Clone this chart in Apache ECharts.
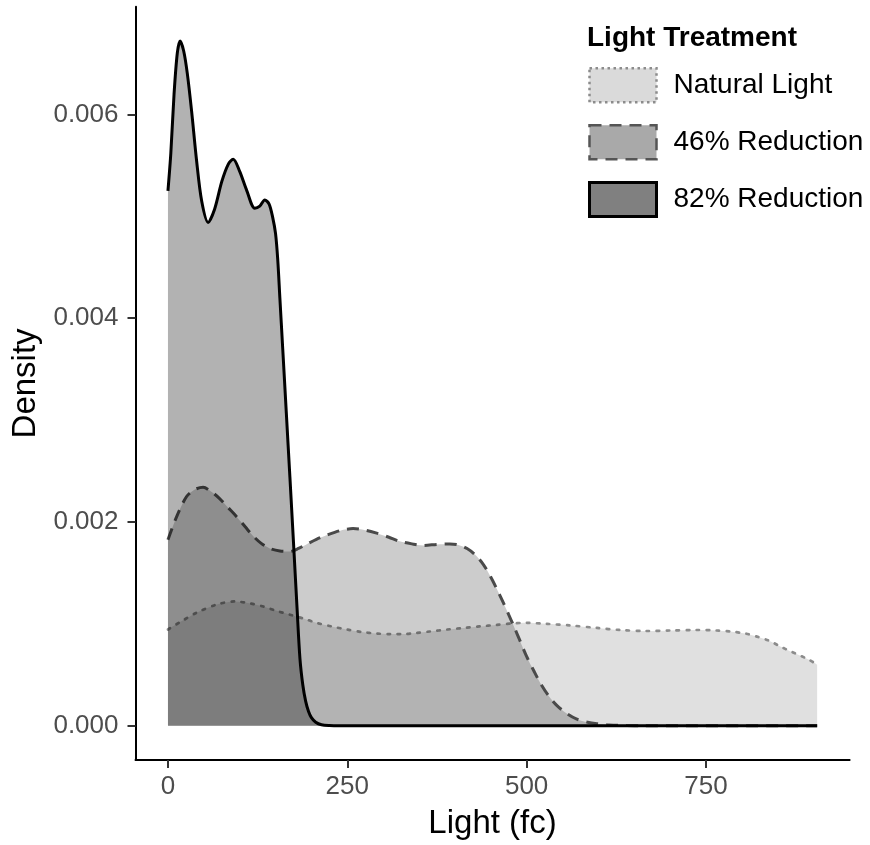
<!DOCTYPE html>
<html>
<head>
<meta charset="utf-8">
<title>Light Treatment density</title>
<script src="https://cdn.jsdelivr.net/npm/echarts@6/dist/echarts.min.js"></script>
<style>
  html, body { margin: 0; padding: 0; background: #ffffff; }
  #chart { width: 870px; height: 845px; }
</style>
</head>
<body>
<div id="chart"></div>
<script>
// Kernel density estimates of light level (fc) for each light treatment.
// Densities are given in units of 0.001.
const naturalX = [0, 20, 40, 68, 93, 115, 133, 150, 170, 190, 207, 228, 249, 270, 291, 310, 328, 345, 365, 390, 412, 435, 458, 481, 500, 528, 560, 598, 630, 667, 700, 737, 765, 784, 805, 821, 838, 853, 868, 881, 893, 905];
const naturalD = [0.945, 1.03, 1.11, 1.19, 1.22, 1.20, 1.17, 1.13, 1.09, 1.05, 1.01, 0.975, 0.945, 0.92, 0.905, 0.90, 0.90, 0.91, 0.925, 0.945, 0.96, 0.975, 0.99, 1.005, 1.01, 1.00, 0.985, 0.96, 0.94, 0.93, 0.935, 0.94, 0.935, 0.925, 0.905, 0.875, 0.835, 0.78, 0.73, 0.69, 0.65, 0.60];

const reduction46X = [0, 12, 26, 38, 49, 60, 72, 84, 96, 108, 119, 130, 142, 156, 170, 182, 193, 207, 221, 240, 258, 275, 291, 308, 323, 340, 356, 375, 393, 405, 417, 428, 440, 450, 460, 468, 475, 482, 491, 500, 510, 519, 530, 542, 556, 570, 585, 598, 615, 640, 660, 905];
const reduction46D = [1.825, 2.05, 2.25, 2.32, 2.34, 2.30, 2.23, 2.14, 2.05, 1.95, 1.86, 1.79, 1.74, 1.715, 1.71, 1.74, 1.78, 1.83, 1.87, 1.915, 1.935, 1.92, 1.89, 1.85, 1.81, 1.785, 1.77, 1.78, 1.785, 1.775, 1.74, 1.68, 1.58, 1.46, 1.32, 1.20, 1.09, 0.98, 0.83, 0.68, 0.54, 0.42, 0.30, 0.20, 0.12, 0.065, 0.035, 0.02, 0.008, 0.002, 0, 0];

const reduction82X = [0, 4, 8.5, 13, 17, 22, 27, 33, 40, 47, 56, 65, 75, 84, 91, 100, 110, 121, 128, 135, 141, 146, 150, 153, 156, 160, 165, 170, 175, 180, 184, 188, 192, 196, 200, 206, 214, 225, 240, 905];
const reduction82D = [5.25, 5.62, 6.20, 6.60, 6.72, 6.62, 6.40, 6.03, 5.54, 5.15, 4.94, 5.07, 5.34, 5.51, 5.56, 5.44, 5.25, 5.08, 5.10, 5.16, 5.12, 4.99, 4.83, 4.58, 4.20, 3.70, 3.07, 2.44, 1.80, 1.15, 0.66, 0.40, 0.24, 0.14, 0.08, 0.035, 0.01, 0.002, 0, 0];

const treatments = ['Natural Light', '46% Reduction', '82% Reduction'];
const xTicks = [0, 250, 500, 750];
const yTicks = [0, 0.002, 0.004, 0.006];

function pairs(xs, ds) {
  return xs.map((x, i) => [x, ds[i] / 1000]);
}

const FONT = '"Liberation Sans", Arial, sans-serif';

const chart = echarts.init(document.getElementById('chart'), null, { renderer: 'canvas' });

const option = {
  backgroundColor: '#ffffff',
  animation: false,
  textStyle: { fontFamily: FONT },
  title: {
    text: 'Light Treatment',
    left: 587,
    top: 24,
    padding: 0,
    textStyle: { fontFamily: FONT, fontSize: 28, fontWeight: 'bold', color: '#000000' }
  },
  legend: {
    orient: 'vertical',
    left: 588,
    top: 67,
    padding: 0,
    itemWidth: 67,
    itemHeight: 34,
    itemGap: 20.5,
    selectedMode: false,
    textStyle: { fontFamily: FONT, fontSize: 28, color: '#000000', padding: [0, 0, 0, 12] },
    data: [
      { name: treatments[0], icon: 'rect',
        itemStyle: { color: '#dadada', borderColor: '#8c8c8c', borderWidth: 2.5, borderType: [2.5, 3.5] } },
      { name: treatments[1], icon: 'rect',
        itemStyle: { color: '#a9a9a9', borderColor: '#555555', borderWidth: 2.5, borderType: [12, 8] } },
      { name: treatments[2], icon: 'rect',
        itemStyle: { color: '#808080', borderColor: '#000000', borderWidth: 3, borderType: 'solid' } }
    ]
  },
  grid: { left: 135.5, right: 20.4, top: 6.8, bottom: 81.3, containLabel: false },
  xAxis: {
    type: 'value',
    min: -45.25,
    max: 950.25,
    name: 'Light (fc)',
    nameLocation: 'middle',
    nameGap: 47,
    nameTextStyle: { fontFamily: FONT, fontSize: 33, color: '#000000' },
    splitLine: { show: false },
    axisLine: { show: true, onZero: false, lineStyle: { color: '#000000', width: 2 } },
    axisTick: { show: true, length: 8, customValues: xTicks, lineStyle: { color: '#333333', width: 2 } },
    axisLabel: {
      customValues: xTicks,
      margin: 14,
      fontFamily: FONT, fontSize: 26, color: '#4d4d4d',
      formatter: v => String(v)
    }
  },
  yAxis: {
    type: 'value',
    min: -0.000336,
    max: 0.007056,
    name: 'Density',
    nameLocation: 'middle',
    nameRotate: 90,
    nameGap: 85,
    nameTextStyle: { fontFamily: FONT, fontSize: 33, color: '#000000' },
    splitLine: { show: false },
    axisLine: { show: true, onZero: false, lineStyle: { color: '#000000', width: 2 } },
    axisTick: { show: true, length: 8, customValues: yTicks, lineStyle: { color: '#333333', width: 2 } },
    axisLabel: {
      customValues: yTicks,
      margin: 17,
      fontFamily: FONT, fontSize: 26, color: '#4d4d4d',
      formatter: v => v.toFixed(3)
    }
  },
  series: [
    {
      name: treatments[0],
      type: 'line',
      data: pairs(naturalX, naturalD),
      smooth: 0.3,
      showSymbol: false,
      symbol: 'none',
      lineStyle: { color: '#8c8c8c', width: 2.7, type: [2.5, 7.5], cap: 'round' },
      itemStyle: { color: '#8c8c8c' },
      areaStyle: { color: '#000000', opacity: 0.12 },
      z: 2
    },
    {
      name: treatments[1],
      type: 'line',
      data: pairs(reduction46X, reduction46D),
      smooth: 0.3,
      showSymbol: false,
      symbol: 'none',
      lineStyle: { color: '#4a4a4a', width: 3, type: [12, 8] },
      itemStyle: { color: '#4a4a4a' },
      areaStyle: { color: '#000000', opacity: 0.2 },
      z: 3
    },
    {
      name: treatments[2],
      type: 'line',
      data: pairs(reduction82X, reduction82D),
      smooth: 0.3,
      showSymbol: false,
      symbol: 'none',
      lineStyle: { color: '#000000', width: 3, type: 'solid' },
      itemStyle: { color: '#000000' },
      areaStyle: { color: '#000000', opacity: 0.3 },
      z: 4
    }
  ]
};

chart.setOption(option);
</script>
</body>
</html>
